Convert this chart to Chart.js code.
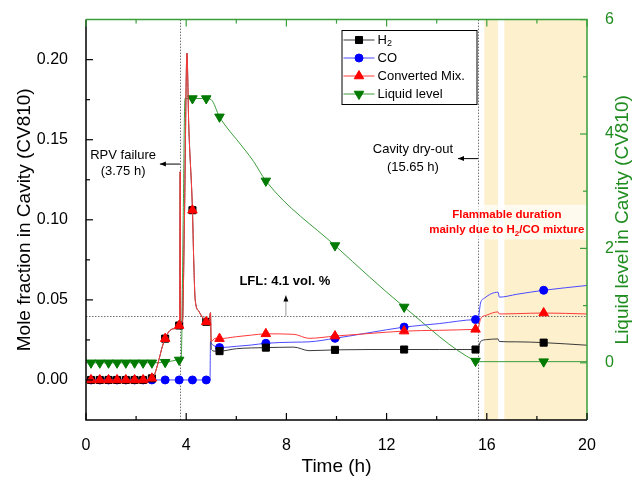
<!DOCTYPE html>
<html>
<head>
<meta charset="utf-8">
<script src="https://cdn.jsdelivr.net/npm/chart.js@4.4.1/dist/chart.umd.min.js"></script>
<style>
  html, body { margin: 0; padding: 0; background: #fff; }
</style>
</head>
<body>
<canvas id="chart" width="643" height="480"></canvas>
<script>
// data
const seriesNames = ['H₂', 'CO', 'Converted Mix.', 'Liquid level'];

const markerTimes = [0.2, 0.55, 0.9, 1.24, 1.59, 1.94, 2.28, 2.63, 3.16, 3.72, 4.25, 4.8, 5.33, 7.18, 9.94, 12.7, 15.55, 18.27];

const gasTime = [0, 0.2, 0.55, 0.9, 1.24, 1.59, 1.94, 2.28, 2.63, 2.75, 2.9, 3.05, 3.16, 3.3, 3.5, 3.72, 3.74, 3.76, 3.78, 3.85, 3.93, 4.03, 4.1, 4.25, 4.3, 4.36, 4.5, 4.65, 4.8, 4.9, 4.97, 5.0, 5.15, 5.33, 6.0, 6.6, 7.18, 8.3, 8.9, 9.94, 11.3, 12.7, 14.1, 15.55, 15.65, 15.75, 16.0, 16.45, 16.5, 17.2, 18.27, 20];
const h2Value = [0, 0, 0, 0, 0, 0, 0, 0, 0.001, 0.004, 0.012, 0.021, 0.0258, 0.030, 0.032, 0.034, 0.05, 0.13, 0.036, 0.036, 0.1, 0.204, 0.16, 0.106, 0.075, 0.05, 0.043, 0.039, 0.0363, 0.035, 0.042,
  0.019, 0.018, 0.018, 0.0195, 0.020, 0.0202, 0.0205, 0.0183, 0.0188, 0.019, 0.019, 0.019, 0.019, 0.0195, 0.024, 0.0252, 0.0256, 0.024, 0.0238, 0.0233, 0.0217];
const mixValue = [0, 0, 0, 0, 0, 0, 0, 0, 0.001, 0.004, 0.012, 0.021, 0.0258, 0.030, 0.032, 0.034, 0.05, 0.13, 0.036, 0.036, 0.1, 0.204, 0.16, 0.106, 0.075, 0.05, 0.043, 0.039, 0.0363, 0.035, 0.042,
  0.024, 0.026, 0.0258, 0.027, 0.028, 0.0288, 0.0285, 0.026, 0.0274, 0.029, 0.0305, 0.031, 0.0316, 0.032, 0.038, 0.0405, 0.0425, 0.0412, 0.0414, 0.0418, 0.0412];

const coTime = [0, 0.2, 0.55, 0.9, 1.24, 1.59, 1.94, 2.28, 2.63, 3.16, 3.72, 4.25, 4.8, 4.95, 4.97, 5.0, 5.15, 5.33, 6.0, 6.6, 7.18, 8.3, 8.9, 9.94, 11.3, 12.7, 14.1, 15.55, 15.65, 15.75, 15.9, 16.45, 16.5, 17.2, 18.27, 20];
const coValue = [0, 0, 0, 0, 0, 0, 0, 0, 0, 0, 0, 0, 0, 0, 0.024, 0.023, 0.021, 0.0202, 0.021, 0.0218, 0.0229, 0.0236, 0.0238, 0.026, 0.0295, 0.033, 0.0352, 0.0377, 0.038, 0.048, 0.051, 0.0548, 0.0517, 0.0535, 0.056, 0.059];

const levelTime = [0, 0.2, 0.55, 0.9, 1.24, 1.59, 1.94, 2.28, 2.63, 3.16, 3.72, 3.8, 3.88, 3.95, 4.25, 4.8, 5.0, 5.33, 5.7, 6.02, 6.69, 7.18, 9.94, 12.7, 15.55, 15.65, 18.27, 20];
const levelValue = [0, 0, 0, 0, 0, 0, 0, 0, 0, 0.01, 0.05, 0.07, 2.5, 4.62, 4.62, 4.62, 4.6, 4.3, 4.07, 3.9, 3.52, 3.18, 2.05, 0.976, 0.03, 0.02, 0.02, 0.02];

const xTicks = [0, 4, 8, 12, 16, 20];
const leftTicks = [0, 0.05, 0.10, 0.15, 0.20];
const rightTicks = [0, 2, 4, 6];

const rpvFailure = 3.75;
const dryOut = 15.65;
const lfl = 0.04;
const flammableBands = [[15.9, 16.45], [16.7, 20]];
const rightTitle = 'Liquid level in Cavity (CV810)';

const FONT = "'Liberation Sans', Arial, sans-serif";
const GREEN = '#1f8c1f';
const AXIS_GREEN = '#3a9e3a';
Chart.defaults.font.family = FONT;

function pts(t, v) { return t.map((x, i) => ({ x: x, y: v[i] })); }
function markerRadius(r) { return ctx => markerTimes.includes(ctx.raw.x) ? r : 0; }

const styles = [
  { line: '#3a3a3a', fill: '#000000', pointStyle: 'rect', radius: 5, rotation: 0 },
  { line: '#4a4aff', fill: '#0000ff', pointStyle: 'circle', radius: 4, rotation: 0 },
  { line: '#ff3a3a', fill: '#ff0000', pointStyle: 'triangle', radius: 5.5, rotation: 0 },
  { line: '#3c9c3c', fill: '#007a00', pointStyle: 'triangle', radius: 5.5, rotation: 180 }
];

function dataset(i, data, axis, order) {
  const s = styles[i];
  return {
    label: seriesNames[i], data: data, yAxisID: axis, order: order,
    borderColor: s.line, borderWidth: 1, backgroundColor: s.fill,
    pointStyle: s.pointStyle, pointRotation: s.rotation,
    pointRadius: markerRadius(s.radius), pointBackgroundColor: s.fill, pointBorderColor: s.fill,
    pointBorderWidth: 1, cubicInterpolationMode: 'monotone'
  };
}

// text with a subscript 2
function drawRich(ctx, text, x, y, size, weight, align) {
  const parts = text.split(/(₂)/).filter(s => s).map(s => s === '₂' ? { t: '2', sub: true } : { t: s, sub: false });
  const fN = weight + ' ' + size + 'px ' + FONT;
  const fS = weight + ' ' + Math.round(size * 0.68) + 'px ' + FONT;
  let w = 0;
  parts.forEach(p => { ctx.font = p.sub ? fS : fN; p.w = ctx.measureText(p.t).width; w += p.w; });
  let cx = align === 'center' ? x - w / 2 : x;
  ctx.textAlign = 'left';
  ctx.textBaseline = 'middle';
  parts.forEach(p => {
    ctx.font = p.sub ? fS : fN;
    ctx.fillText(p.t, cx, p.sub ? y + size * 0.3 : y);
    cx += p.w;
  });
}

function arrow(ctx, x1, y1, x2, y2) {
  const a = Math.atan2(y2 - y1, x2 - x1);
  ctx.beginPath(); ctx.moveTo(x1, y1); ctx.lineTo(x2, y2); ctx.stroke();
  ctx.beginPath();
  ctx.moveTo(x2, y2);
  ctx.lineTo(x2 - 6 * Math.cos(a) + 2.5 * Math.sin(a), y2 - 6 * Math.sin(a) - 2.5 * Math.cos(a));
  ctx.lineTo(x2 - 6 * Math.cos(a) - 2.5 * Math.sin(a), y2 - 6 * Math.sin(a) + 2.5 * Math.cos(a));
  ctx.closePath(); ctx.fill();
}

const backdrop = {
  id: 'backdrop',
  beforeDatasetsDraw(chart) {
    const { ctx, chartArea: a, scales: { x, y } } = chart;
    ctx.save();
    ctx.fillStyle = '#fdf0cd';
    flammableBands.forEach(b => {
      const x1 = x.getPixelForValue(b[0]), x2 = x.getPixelForValue(b[1]);
      ctx.fillRect(x1, a.top, x2 - x1, a.bottom - a.top);
    });
    ctx.strokeStyle = '#707070';
    ctx.lineWidth = 1;
    ctx.setLineDash([1.5, 1.5]);
    [rpvFailure, dryOut].forEach(t => {
      const px = Math.round(x.getPixelForValue(t)) + 0.5;
      ctx.beginPath(); ctx.moveTo(px, a.top); ctx.lineTo(px, a.bottom); ctx.stroke();
    });
    const py = Math.round(y.getPixelForValue(lfl)) + 0.5;
    ctx.beginPath(); ctx.moveTo(a.left, py); ctx.lineTo(a.right, py); ctx.stroke();
    ctx.restore();
  },
  afterDatasetsDraw(chart) {
    const { ctx, chartArea: a, scales: { x, y, y2 } } = chart;
    const X = v => x.getPixelForValue(v), Y = v => y.getPixelForValue(v);
    ctx.save();

    // flammable note
    ctx.fillStyle = 'rgba(255,255,255,0.65)';
    ctx.fillRect(X(13.53), Y(0.1094), a.right - X(13.53), Y(0.0877) - Y(0.1094));
    ctx.fillStyle = '#ff0000';
    drawRich(ctx, 'Flammable duration', X(16.8), Y(0.1029), 11.5, 'bold', 'center');
    drawRich(ctx, 'mainly due to H₂/CO mixture', X(16.8), Y(0.0936), 11.5, 'bold', 'center');

    ctx.fillStyle = '#000';
    ctx.strokeStyle = '#000';
    ctx.lineWidth = 1;
    drawRich(ctx, 'RPV failure', X(1.48), Y(0.140), 13, 'normal', 'center');
    drawRich(ctx, '(3.75 h)', X(1.48), Y(0.130), 13, 'normal', 'center');
    arrow(ctx, X(rpvFailure), Y(0.1348), X(2.95), Y(0.1348));
    drawRich(ctx, 'Cavity dry-out', X(13.05), Y(0.1437), 13, 'normal', 'center');
    drawRich(ctx, '(15.65 h)', X(13.05), Y(0.1329), 13, 'normal', 'center');
    arrow(ctx, X(dryOut), Y(0.1382), X(14.85), Y(0.1382));
    drawRich(ctx, 'LFL: 4.1 vol. %', X(7.94), Y(0.0618), 13, 'bold', 'center');
    ctx.strokeStyle = '#999';
    ctx.fillStyle = '#000';
    arrow(ctx, X(7.98), Y(lfl), X(7.98), Y(0.0528));

    // axes frame and inward ticks
    ctx.lineWidth = 1.5;
    ctx.strokeStyle = '#000';
    ctx.beginPath(); ctx.moveTo(a.left, a.top); ctx.lineTo(a.left, a.bottom); ctx.lineTo(a.right, a.bottom); ctx.stroke();
    ctx.strokeStyle = AXIS_GREEN;
    ctx.beginPath(); ctx.moveTo(a.left, a.top); ctx.lineTo(a.right, a.top); ctx.lineTo(a.right, a.bottom); ctx.stroke();

    const mids = arr => arr.slice(1).map((v, i) => (v + arr[i]) / 2);
    ctx.lineWidth = 1.2;
    ctx.strokeStyle = '#000';
    leftTicks.forEach(v => { const p = Y(v); ctx.beginPath(); ctx.moveTo(a.left, p); ctx.lineTo(a.left + 7, p); ctx.stroke(); });
    mids(leftTicks).forEach(v => { const p = Y(v); ctx.beginPath(); ctx.moveTo(a.left, p); ctx.lineTo(a.left + 4, p); ctx.stroke(); });
    xTicks.forEach(v => { const p = X(v); ctx.beginPath(); ctx.moveTo(p, a.bottom); ctx.lineTo(p, a.bottom - 7); ctx.stroke(); });
    mids(xTicks).forEach(v => { const p = X(v); ctx.beginPath(); ctx.moveTo(p, a.bottom); ctx.lineTo(p, a.bottom - 4); ctx.stroke(); });
    ctx.strokeStyle = AXIS_GREEN;
    xTicks.forEach(v => { const p = X(v); ctx.beginPath(); ctx.moveTo(p, a.top); ctx.lineTo(p, a.top + 7); ctx.stroke(); });
    mids(xTicks).forEach(v => { const p = X(v); ctx.beginPath(); ctx.moveTo(p, a.top); ctx.lineTo(p, a.top + 4); ctx.stroke(); });
    rightTicks.forEach(v => { const p = y2.getPixelForValue(v); ctx.beginPath(); ctx.moveTo(a.right, p); ctx.lineTo(a.right - 7, p); ctx.stroke(); });
    mids(rightTicks).forEach(v => { const p = y2.getPixelForValue(v); ctx.beginPath(); ctx.moveTo(a.right, p); ctx.lineTo(a.right - 4, p); ctx.stroke(); });

    // right axis title, reading bottom to top
    ctx.save();
    ctx.translate(a.right + 36, (a.top + a.bottom) / 2);
    ctx.rotate(-Math.PI / 2);
    ctx.fillStyle = GREEN;
    ctx.font = '19px ' + FONT;
    ctx.textAlign = 'center';
    ctx.textBaseline = 'middle';
    ctx.fillText(rightTitle, 0, 0);
    ctx.restore();

    // legend box
    const lx = X(10.2), ly = Y(0.2185), lw = 135, rowH = 18;
    ctx.fillStyle = '#fff';
    ctx.fillRect(lx, ly, lw, rowH * 4 + 2);
    ctx.strokeStyle = '#000';
    ctx.lineWidth = 1;
    ctx.strokeRect(lx + 0.5, ly + 0.5, lw, rowH * 4 + 2);
    seriesNames.forEach((name, i) => {
      const s = styles[i];
      const cy = ly + 10 + i * rowH;
      ctx.strokeStyle = s.line;
      ctx.beginPath(); ctx.moveTo(lx + 2, cy); ctx.lineTo(lx + 33, cy); ctx.stroke();
      ctx.fillStyle = s.fill; ctx.strokeStyle = s.fill;
      Chart.helpers.drawPoint(ctx, { pointStyle: s.pointStyle, radius: s.radius, rotation: s.rotation, borderWidth: 1 }, lx + 17.5, cy);
      ctx.fillStyle = '#000';
      drawRich(ctx, name, lx + 36, cy, 13, 'normal', 'left');
    });
    ctx.restore();
  }
};

new Chart(document.getElementById('chart'), {
  type: 'line',
  data: {
    datasets: [
      dataset(0, pts(gasTime, h2Value), 'y', 1),
      dataset(1, pts(coTime, coValue), 'y', 2),
      dataset(2, pts(gasTime, mixValue), 'y', 0),
      dataset(3, pts(levelTime, levelValue), 'y2', 3)
    ]
  },
  options: {
    responsive: false,
    animation: false,
    events: [],
    layout: { padding: { top: 16, left: 0, right: 0, bottom: 0 } },
    plugins: { legend: { display: false }, tooltip: { enabled: false } },
    scales: {
      x: {
        type: 'linear', min: 0, max: 20,
        afterBuildTicks: s => { s.ticks = xTicks.map(v => ({ value: v })); },
        afterFit: s => { s.height = 60; },
        grid: { display: false }, border: { display: false },
        ticks: { color: '#000', font: { size: 16 }, padding: 8, maxRotation: 0 },
        title: { display: true, text: 'Time (h)', color: '#000', font: { size: 19 }, padding: { top: 0, bottom: 1.6 } }
      },
      y: {
        position: 'left', min: -0.025, max: 0.225,
        afterBuildTicks: s => { s.ticks = leftTicks.map(v => ({ value: v })); },
        afterFit: s => { s.width = 86; },
        grid: { display: false }, border: { display: false },
        ticks: { color: '#000', font: { size: 16 }, padding: 10, callback: v => v.toFixed(2) },
        title: { display: true, text: 'Mole fraction in Cavity (CV810)', color: '#000', font: { size: 19 }, padding: { top: 13.6, bottom: 0 } }
      },
      y2: {
        position: 'right', min: -1, max: 6,
        afterBuildTicks: s => { s.ticks = rightTicks.map(v => ({ value: v })); },
        afterFit: s => { s.width = 56; },
        grid: { display: false }, border: { display: false },
        ticks: { color: GREEN, font: { size: 16 }, padding: 10 }
      }
    }
  },
  plugins: [backdrop]
});
</script>
</body>
</html>
